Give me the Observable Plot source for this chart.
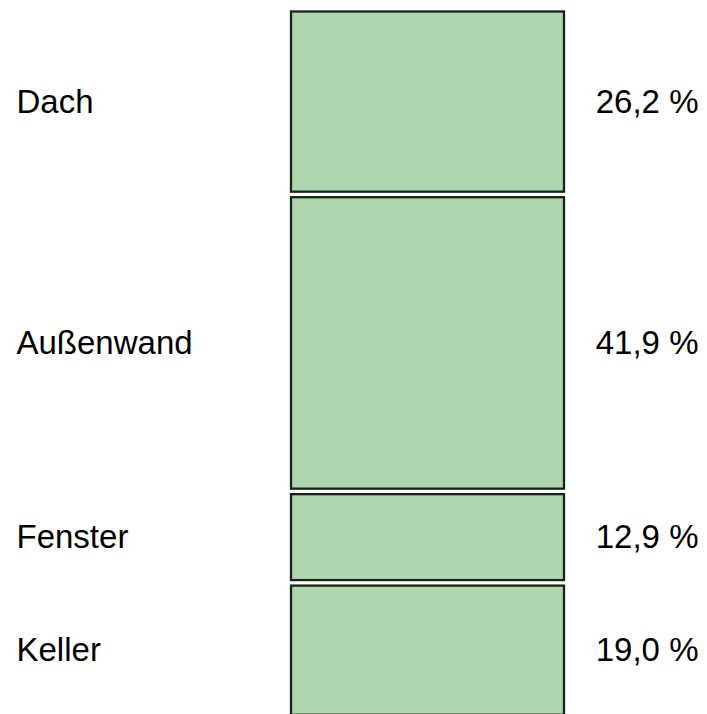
<!DOCTYPE html>
<html>
<head>
<meta charset="utf-8">
<script src="https://cdn.jsdelivr.net/npm/d3@7"></script>
<script src="https://cdn.jsdelivr.net/npm/@observablehq/plot@0.6"></script>
<style>
  html, body { margin: 0; padding: 0; background: #fff; overflow: hidden; }
</style>
</head>
<body>
<div id="chart"></div>
<script>
const categories = ["Dach", "Außenwand", "Fenster", "Keller"];
const shares = [26.2, 41.9, 12.9, 19.0];
const shareLabels = ["26,2 %", "41,9 %", "12,9 %", "19,0 %"];

const data = categories.map((name, i) => ({name, value: shares[i], label: shareLabels[i], group: "Anteil"}));

const chart = Plot.plot({
  width: 707,
  height: 714,
  marginTop: 0,
  marginBottom: 0,
  marginLeft: 16,
  marginRight: 9,
  style: {fontFamily: "'Liberation Sans', Arial, sans-serif", fontSize: "33px", background: "#fff", overflow: "visible"},
  x: {type: "band", domain: ["Anteil"], range: [290.5, 563.5], padding: 0, axis: null},
  y: {domain: [0, 100], range: [8.75, 717.5], axis: null},
  marks: [
    Plot.barY(data, Plot.stackY({
      x: "group", y: "value", order: null,
      fill: "#add5ae", stroke: "#172418", strokeWidth: 2.3,
      insetTop: 2.75, insetBottom: 2.75
    })),
    Plot.text(data, Plot.stackY({
      y: "value", order: null, text: "name",
      frameAnchor: "left", textAnchor: "start", fill: "#000", fontSize: 33
    })),
    Plot.text(data, Plot.stackY({
      y: "value", order: null, text: "label",
      frameAnchor: "right", textAnchor: "end", fill: "#000", fontSize: 33
    }))
  ]
});
document.getElementById("chart").appendChild(chart);
</script>
</body>
</html>
